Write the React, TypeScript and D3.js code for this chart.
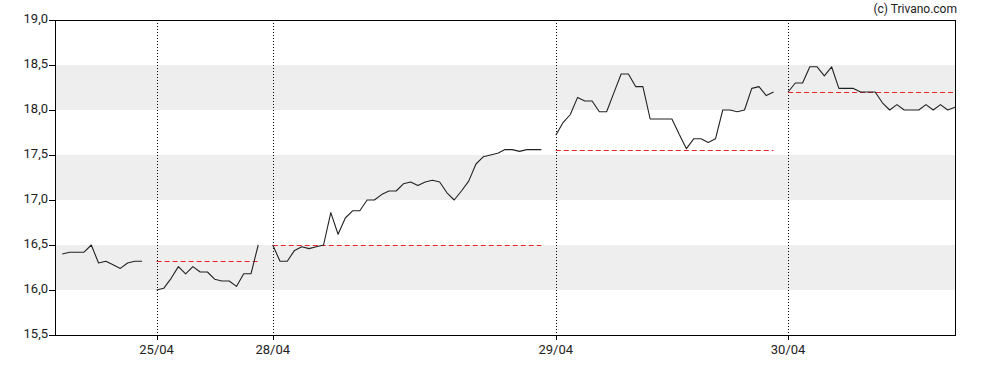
import React from "react";
import * as d3 from "d3";

const yTicks = [15.5, 16.0, 16.5, 17.0, 17.5, 18.0, 18.5, 19.0];
const bands = [[16.0, 16.5], [17.0, 17.5], [18.0, 18.5]];

const day1 = [16.40, 16.42, 16.42, 16.42, 16.50, 16.30, 16.32, 16.28, 16.24, 16.30, 16.32, 16.32];
const day2 = [16.00, 16.02, 16.13, 16.26, 16.18, 16.26, 16.20, 16.20, 16.12, 16.10, 16.10, 16.04, 16.18, 16.18, 16.50];
const day3 = [16.50, 16.32, 16.32, 16.44, 16.48, 16.46, 16.48, 16.50, 16.86, 16.62, 16.80, 16.88, 16.88, 17.00, 17.00, 17.06, 17.10, 17.10, 17.18, 17.20, 17.16, 17.20, 17.22, 17.20, 17.08, 17.00, 17.10, 17.21, 17.40, 17.48, 17.50, 17.52, 17.56, 17.56, 17.54, 17.56, 17.56, 17.56];
const day4 = [17.72, 17.86, 17.95, 18.14, 18.10, 18.10, 17.98, 17.98, 18.19, 18.40, 18.40, 18.26, 18.26, 17.90, 17.90, 17.90, 17.90, 17.73, 17.57, 17.68, 17.68, 17.64, 17.68, 18.00, 18.00, 17.98, 18.00, 18.24, 18.26, 18.16, 18.20];
const day5 = [18.20, 18.30, 18.30, 18.48, 18.48, 18.38, 18.48, 18.24, 18.24, 18.24, 18.20, 18.20, 18.20, 18.08, 18.00, 18.06, 18.00, 18.00, 18.00, 18.06, 18.00, 18.06, 18.00, 18.03];

const dayStarts = [0, 13, 29, 68, 100];
const days = [day1, day2, day3, day4, day5];
const prevClose = [null, 16.32, 16.50, 17.56, 18.20];
const dayLabels = [null, "25/04", "28/04", "29/04", "30/04"];

const W = 988, H = 370;
const L = 55, R = 955, T = 20, B = 335;

export default function App() {
  const x = d3.scaleLinear().domain([-1, 123]).range([L, R]);
  const y = d3.scaleLinear().domain([15.5, 19.0]).range([B, T]);
  const fmt = (v: number) => v.toFixed(1).replace(".", ",");
  const font = "Roboto, 'Noto Sans', sans-serif";

  return (
    <svg width={W} height={H} style={{ position: "absolute", left: 0, top: 0 }}>
      <rect x={0} y={0} width={W} height={H} fill="#fff" />
      {bands.map(([a, b], i) => (
        <rect key={i} x={L} y={y(b)} width={R - L} height={y(a) - y(b)} fill="#eeeeee" />
      ))}
      {dayStarts.map((s, i) =>
        dayLabels[i] ? (
          <g key={"v" + i}>
            <line x1={Math.round(x(s)) + 0.5} x2={Math.round(x(s)) + 0.5} y1={T} y2={B} stroke="#000" strokeDasharray="1,2" strokeWidth={1} />
            <line x1={Math.round(x(s)) + 0.5} x2={Math.round(x(s)) + 0.5} y1={B} y2={B + 5} stroke="#000" strokeWidth={1} />
            <text x={x(s)} y={B + 19} textAnchor="middle" fontFamily={font} fontSize={13} fill="#222">{dayLabels[i]}</text>
          </g>
        ) : null
      )}
      {days.map((vals, i) => {
        const s = dayStarts[i];
        const pc = prevClose[i];
        const g = d3.line<number>().x((_, j) => x(s + j)).y((d) => y(d));
        return (
          <g key={"d" + i}>
            {pc !== null && (
              <line x1={x(s)} x2={x(s + vals.length - 1)} y1={Math.round(y(pc)) + 0.5} y2={Math.round(y(pc)) + 0.5} stroke="#e8262a" strokeWidth={1} strokeDasharray="5,3" />
            )}
            <path d={g(vals) || ""} fill="none" stroke="#222" strokeWidth={1.1} strokeLinejoin="round" />
          </g>
        );
      })}
      <rect x={L + 0.5} y={T + 0.5} width={R - L} height={B - T} fill="none" stroke="#000" strokeWidth={1} />
      {yTicks.map((t) => (
        <g key={"y" + t}>
          <line x1={L - 6} x2={L} y1={Math.round(y(t)) + 0.5} y2={Math.round(y(t)) + 0.5} stroke="#000" />
          <text x={L - 7} y={y(t) + 3} textAnchor="end" fontFamily={font} fontSize={13} fill="#222">{fmt(t)}</text>
        </g>
      ))}
      <text x={957} y={13} textAnchor="end" fontFamily={font} fontSize={12} fill="#222">(c) Trivano.com</text>
    </svg>
  );
}
